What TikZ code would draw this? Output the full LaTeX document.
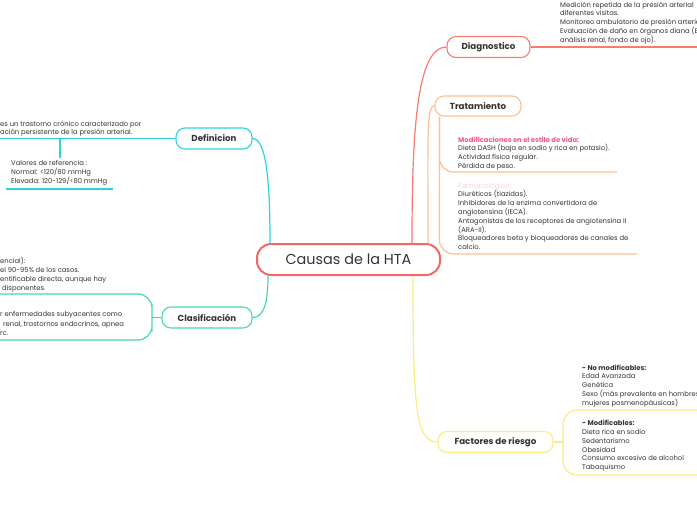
\documentclass[tikz,border=0pt]{standalone}
\usepackage{fontspec}
\setmainfont{Poppins}
\usepackage{xcolor}
\usepackage{tikz}
\usetikzlibrary{positioning}

\definecolor{ink}{RGB}{52,52,52}
\definecolor{htared}{RGB}{242,104,100}
\definecolor{diagred}{RGB}{249,122,110}
\definecolor{tratorange}{RGB}{253,192,145}
\definecolor{defcyan}{RGB}{45,212,222}
\definecolor{clasgreen}{RGB}{72,218,170}
\definecolor{facyellow}{RGB}{250,236,130}
\definecolor{modpink}{RGB}{240,88,150}
\definecolor{farmpink}{RGB}{250,205,228}

\tikzstyle{central} = [rectangle, rounded corners=14pt, minimum width=183pt, minimum height=31pt, draw=htared, line width=2pt, fill=white, text=ink, font=\fontsize{14.4}{16}\selectfont]
\tikzstyle{topic}   = [rectangle, rounded corners=9pt, minimum height=21pt, line width=1.1pt, fill=white, text=ink, font=\bfseries\fontsize{8.7}{9}\selectfont]
\tikzstyle{note}    = [anchor=north west, align=left, inner sep=0pt, text=ink, font=\fontsize{6.8}{8.8}\selectfont]
\tikzstyle{branch}  = [line width=1.2pt]

\begin{document}
\begin{tikzpicture}[x=1pt, y=-1pt]
\clip (0,0) rectangle (697,520);
\fill[white] (0,0) rectangle (697,520);

\node (hta) [central] at (348.5,259.5) {Causas de la HTA};
\node (diag) [topic, draw=diagred, minimum width=83pt] at (488.5,47) {Diagnostico};
\node (trat) [topic, draw=tratorange, minimum width=86pt, minimum height=20pt] at (478,106) {Tratamiento};
\node (def) [topic, draw=defcyan, minimum width=76pt] at (214,138.5) {Definicion};
\node (clas) [topic, draw=clasgreen, minimum width=90pt] at (207,317.5) {Clasificación};
\node (fac) [topic, draw=facyellow, minimum width=115pt] at (495.5,442) {Factores de riesgo};

\draw [branch, draw=diagred] ([xshift=-29pt]hta.north east) .. controls +(0,-110) and +(-30,0) .. (diag.west);
\draw [branch, draw=tratorange] ([xshift=-13pt]hta.north east) .. controls +(0,-110) and +(-8,0) .. (trat.west);
\draw [branch, draw=defcyan] (def.east) .. controls +(14,0) and +(0,-60) .. ([xshift=14pt]hta.north west);
\draw [branch, draw=clasgreen] (clas.east) .. controls +(12,0) and +(0,25) .. ([xshift=12pt]hta.south west);
\draw [branch, draw=facyellow] ([xshift=-28pt]hta.south east) .. controls +(0,130) and +(-22,0) .. (fac.west);

% Diagnostico
\coordinate (diag-end) at (697,47);
\draw [branch, draw=diagred] (diag.east) -- (diag-end);
\node (diag-txt) [note] at (560,1.5) {Medición repetida de la presión arterial\\diferentes visitas.\\Monitoreo ambulatorio de presión arterial\\Evaluación de daño en órganos diana (E\\análisis renal, fondo de ojo).};

% Tratamiento
\coordinate (trat-root) at ([xshift=5pt]trat.south west);
\coordinate (mod-end) at (617,172);
\coordinate (farm-end) at (637,254);
\draw [branch, draw=tratorange, rounded corners=14pt] (trat-root) |- (mod-end);
\draw [branch, draw=tratorange, rounded corners=14pt] (trat-root) |- (farm-end);
\node (mod-txt) [note] at (458,136.5) {\textcolor{modpink}{\bfseries Modificaciones en el estilo de vida:}\\Dieta DASH (baja en sodio y rica en potasio).\\Actividad física regular.\\Pérdida de peso.};
\node (farm-txt) [note] at (458,182.5) {\textcolor{farmpink}{Farmacológico:}\\Diuréticos (tiazidas).\\Inhibidores de la enzima convertidora de\\angiotensina (IECA).\\Antagonistas de los receptores de angiotensina II\\(ARA-II).\\Bloqueadores beta y bloqueadores de canales de\\calcio.};

% Definicion
\coordinate (def-end) at (0,138.5);
\coordinate (val-top) at (60,138.5);
\draw [branch, draw=defcyan] (def.west) -- (def-end);
\node (def-txt) [note] at (0,120.5) {es un trastorno crónico caracterizado por\\ación persistente de la presión arterial.};
\node (val) [note] at (11,160.5) {Valores de referencia :\\Normal: <120/80 mmHg\\Elevada: 120-129/<80 mmHg};
\draw [branch, draw=defcyan, shorten >=3pt] (val-top) -- (val-top |- val.north);
\coordinate (val-a) at (6,189);
\coordinate (val-b) at (113,189);
\draw [branch, draw=defcyan] (val-a) -- (val-b);

% Clasificacion
\coordinate (clas-join) at (152,317.5);
\coordinate (sec-top) at (0,294);
\coordinate (sec-bot) at (0,340);
\draw [branch, draw=clasgreen] (clas.west) -- (clas-join);
\draw [branch, draw=clasgreen, rounded corners=14pt] (sec-top) -| (clas-join) |- (sec-bot);
\node (prim-txt) [note, font=\fontsize{6.8}{9.3}\selectfont] at (0,256.5) {encial):\\el 90-95\% de los casos.\\entificable directa, aunque hay\\\hspace*{2pt}disponentes.};
\node (sec-txt) [note, font=\fontsize{6.8}{9.5}\selectfont] at (0,311.5) {r enfermedades subyacentes como\\\hspace*{3pt}renal, trastornos endocrinos, apnea\\rc.};

% Factores de riesgo
\coordinate (fac-join) at (563,442);
\coordinate (nomod-end) at (697,410);
\coordinate (modi-end) at (697,475);
\draw [branch, draw=facyellow] (fac.east) -- (fac-join);
\draw [branch, draw=facyellow, rounded corners=14pt] (fac-join) |- (nomod-end);
\draw [branch, draw=facyellow, rounded corners=14pt] (fac-join) |- (modi-end);
\node (nomod-txt) [note] at (582,364.5) {\textbf{- No modificables:}\\Edad Avanzada\\Genética\\Sexo (más prevalente en hombres\\mujeres posmenopáusicas)};
\node (modi-txt) [note] at (582,420) {\textbf{- Modificables:}\\Dieta rica en sodio\\Sedentarismo\\Obesidad\\Consumo excesivo de alcohol\\Tabaquismo};
\end{tikzpicture}
\end{document}
